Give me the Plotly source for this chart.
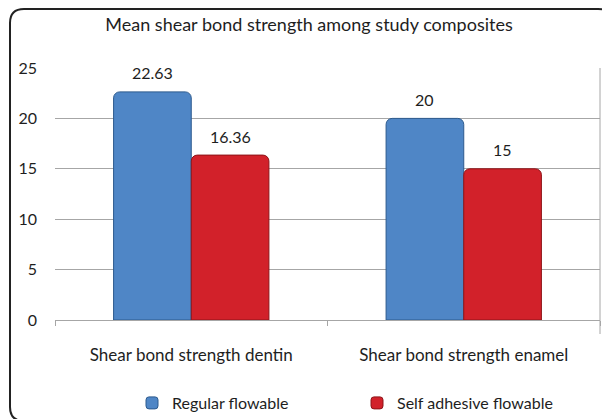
import plotly.graph_objects as go

categories = ["Shear bond strength dentin", "Shear bond strength enamel"]
regular_flowable = [22.63, 20]
self_adhesive_flowable = [16.36, 15]
series_names = ["Regular flowable", "Self adhesive flowable"]
y_ticks = [0, 5, 10, 15, 20, 25]

W, H = 602, 419
L, R, T, B = 55, 2, 68, 99
FONT = "Lato, Open Sans, Arial"
TEXT = "#1e1e1e"
BLUE, RED = "#4f86c6", "#d2212a"

fig = go.Figure()
for name, vals, color, edge in [(series_names[0], regular_flowable, BLUE, "#2c5a8e"),
                                (series_names[1], self_adhesive_flowable, RED, "#8e1418")]:
    fig.add_trace(go.Bar(
        x=categories, y=vals, name=name,
        marker=dict(color=color, line=dict(color=edge, width=1), cornerradius=6),
    ))

# value labels above each bar
for vals, shift in [(regular_flowable, -39), (self_adhesive_flowable, 39)]:
    for cat, v in zip(categories, vals):
        fig.add_annotation(x=cat, y=v, text=f"{v:g}", showarrow=False,
                           xshift=shift, yshift=19, yanchor="middle",
                           font=dict(size=16, color=TEXT, family=FONT))

# rounded frame around the whole chart (paper coordinates)
pw, ph = W - L - R, H - T - B
def px(x): return (x - L) / pw
def py(y): return (H - B - y) / ph
x0, x1, y0, y1, r = 10, 612, 9, 421, 14
path = (f"M {px(x0 + r)},{py(y0)} L {px(x1 - r)},{py(y0)} "
        f"Q {px(x1)},{py(y0)} {px(x1)},{py(y0 + r)} L {px(x1)},{py(y1 - r)} "
        f"Q {px(x1)},{py(y1)} {px(x1 - r)},{py(y1)} L {px(x0 + r)},{py(y1)} "
        f"Q {px(x0)},{py(y1)} {px(x0)},{py(y1 - r)} L {px(x0)},{py(y0 + r)} "
        f"Q {px(x0)},{py(y0)} {px(x0 + r)},{py(y0)} Z")
fig.add_shape(type="path", path=path, xref="paper", yref="paper",
              line=dict(color="#222222", width=2), layer="below")
fig.add_shape(type="line", xref="paper", yref="paper", x0=1, x1=1, y0=py(334), y1=1,
              line=dict(color="#a6a6a6", width=1))

fig.update_layout(
    width=W, height=H,
    margin=dict(l=L, r=R, t=T, b=B, autoexpand=False),
    paper_bgcolor="white", plot_bgcolor="white",
    barmode="group", bargap=0.43, bargroupgap=0.0,
    font=dict(family=FONT, color=TEXT, size=16),
    title=dict(text="Mean shear bond strength among study composites",
               x=309 / W, xanchor="center", y=1 - 25 / H, yanchor="middle",
               xref="container", yref="container",
               font=dict(size=18, color=TEXT, family=FONT)),
    showlegend=True,
    legend=dict(orientation="h", x=px(132), xanchor="left", y=py(403), yanchor="middle",
                entrywidth=180, bgcolor="rgba(0,0,0,0)",
                font=dict(size=16, color=TEXT, family=FONT)),
    xaxis=dict(showgrid=False, showline=True, linecolor="#a6a6a6", linewidth=1,
               ticks="outside", tickson="boundaries", ticklen=5, tickcolor="#a6a6a6",
               ticklabelstandoff=20, tickfont=dict(size=17, color=TEXT, family=FONT)),
    yaxis=dict(range=[0, 25], tickvals=y_ticks, showgrid=True, gridcolor="#a6a6a6",
               gridwidth=1, showline=False, zeroline=False, ticks="",
               ticklabelstandoff=17, tickfont=dict(size=16, color=TEXT, family=FONT)),
)

fig.write_html("out.html")
